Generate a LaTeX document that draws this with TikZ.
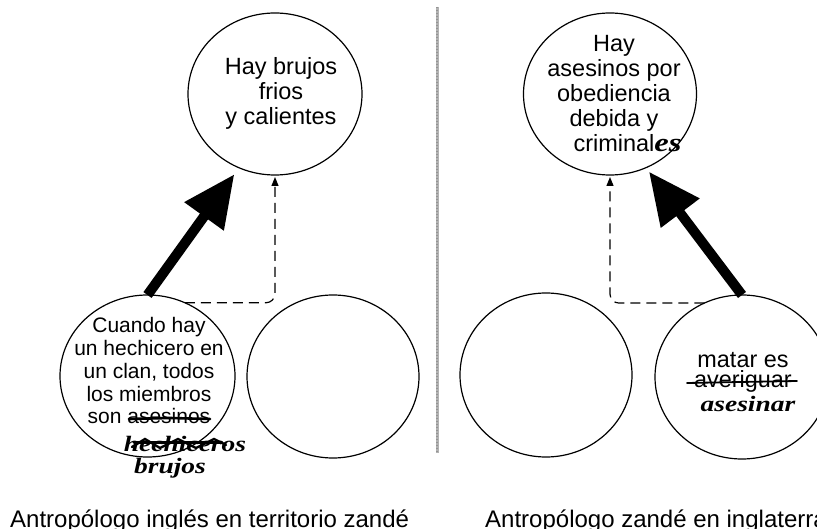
\documentclass[tikz,border=0pt]{standalone}
\usepackage{fontspec}
\setmainfont{Liberation Sans}
\newfontfamily\handfont[FakeStretch=1.25]{Liberation Serif}
\usetikzlibrary{arrows.meta,shapes.geometric}
\begin{document}
\begin{tikzpicture}[x=1pt,y=-1pt,
  circ/.style={draw, ellipse, line width=1.2pt, inner sep=0pt, outer sep=0pt},
  bigarrow/.style={line width=10pt, -{Triangle[length=52pt,width=46pt]}},
  dasharrow/.style={line width=1.2pt, dash pattern=on 10pt off 6pt, rounded corners=9pt, -{Triangle[length=9pt,width=7pt]}},
  txt/.style={inner sep=0pt, align=center, anchor=base},
  hand/.style={inner sep=0pt, anchor=base, font=\handfont\bfseries\itshape\fontsize{22}{22}\selectfont},
  strike/.style={line width=2.6pt, line cap=round},
  caption/.style={inner sep=0pt, anchor=base west, font=\fontsize{24}{28}\selectfont}
]
\useasboundingbox (0,0) rectangle (817,529);
\clip (0,0) rectangle (817,529);

% separator
\draw[gray!60, line width=3pt] (437,7) -- (437,453);
\draw[gray!85, line width=2pt, dash pattern=on 1pt off 2pt] (437,7) -- (437,453);

% circles
\node[circ, minimum width=174pt, minimum height=162pt] (tl) at (275,94) {};
\node[circ, minimum width=173pt, minimum height=162pt] (tr) at (610,94) {};
\node[circ, minimum width=175pt, minimum height=162pt] (bl1) at (147.5,376) {};
\node[circ, minimum width=172pt, minimum height=163pt] (bl2) at (333,376.5) {};
\node[circ, minimum width=172pt, minimum height=164pt] (br1) at (546,375) {};
\node[circ, minimum width=174pt, minimum height=164pt] (br2) at (742,377) {};

% texts (anchor = baseline of the last line)
\node[txt, font=\fontsize{23.5}{25}\selectfont] (tlt) at (281,125) {Hay brujos\\frios\\y calientes};
\node[txt, font=\fontsize{23.5}{25}\selectfont] (trt) at (614,152) {Hay\\asesinos por\\obediencia\\debida y\\criminal\rlap{\handfont\bfseries\itshape\fontsize{26}{26}\selectfont es}};
\node[txt, font=\fontsize{21}{22.8}\selectfont] (blt) at (149,424) {Cuando hay\\un hechicero en\\un clan, todos\\los miembros\\son asesinos};
\node[hand] (hech) at (185,451) {hechiceros};
\node[hand] (bruj) at (170,473) {brujos};
\node[txt, font=\fontsize{23.4}{20.5}\selectfont] (brt) at (743,388) {matar es\\averiguar};
\node[hand] (ases) at (748,411) {asesinar};

% strike-outs
\draw[strike] (129,419) -- (170,418) -- (210,419);
\draw[strike, line width=2.4pt] (132,447) -- (145,439) -- (160,448) -- (178,439) -- (196,448) -- (214,439) -- (226,445);
\draw[strike, line width=3pt] (134,442) -- (222,442);
\draw[line width=1.8pt, line cap=round] (687,383) -- (740,382) -- (797,381);

% connectors
\draw[bigarrow, shorten >=8pt] (bl1.north) -- (tl.244);
\draw[bigarrow, shorten >=5pt] (br2.north) -- (tr.296);
\draw[dasharrow, shorten >=2pt] (bl1.63) -| (tl.south);
\draw[dasharrow, shorten >=2pt] (br2.117) -| (tr.south);

% captions
\node[caption] (capl) at (10,527) {Antropólogo inglés en territorio zandé};
\node[caption] (capr) at (485,527) {Antropólogo zandé en inglaterra};
\end{tikzpicture}
\end{document}
